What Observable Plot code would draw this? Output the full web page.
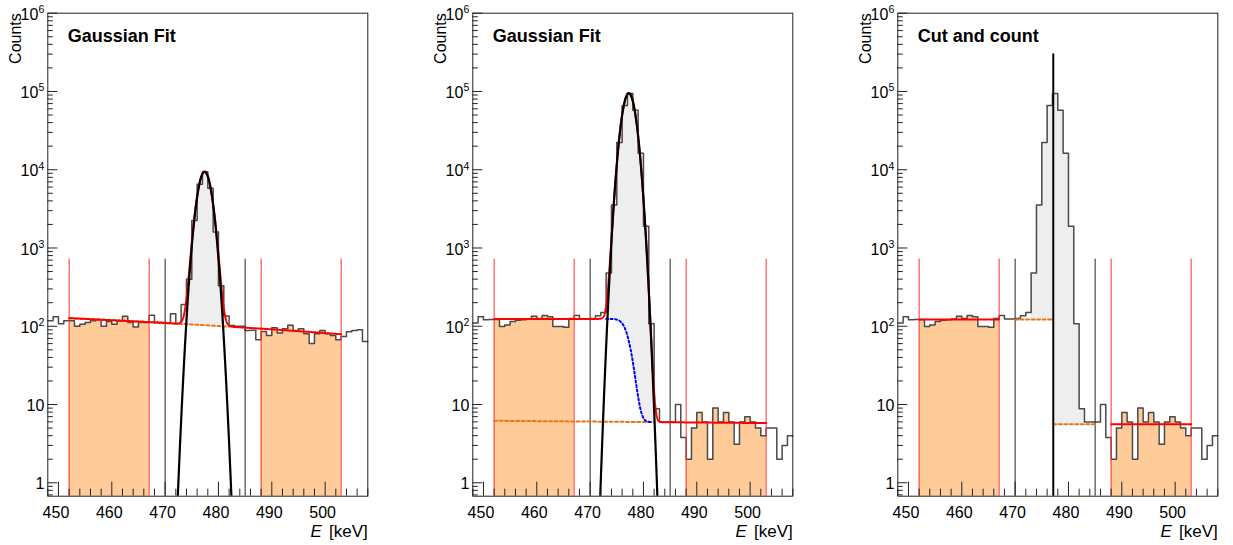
<!DOCTYPE html>
<html><head><meta charset="utf-8">
<script src="https://cdn.jsdelivr.net/npm/d3@7"></script>
<script src="https://cdn.jsdelivr.net/npm/@observablehq/plot@0.6"></script>
<style>
html,body{margin:0;padding:0;background:#fff;}
#wrap{display:flex;width:1233px;height:545px;overflow:hidden;}
#wrap svg{display:block;flex:none;}
</style></head><body><div id="wrap"></div>
<script>
// ---------------- data ----------------
const xMin = 448, xMax = 508, binWidth = 1, nBins = 60;
const binLow = d3.range(nBins).map(i => xMin + i * binWidth);
const YMIN = 0.674, YMAX = 1e6;

// panel 1 histogram (counts per 1 keV bin, 448..508)
const counts1 = [118,132,108,118,118,100,106,112,118,121,
                 100,115,106,116,134,112,98,112,112,138,
                 112,112,110,145,108,190,400,2250,6500,9400,
                 5800,1600,330,135,102,100,100,88,89,67,
                 86,76,96,82,93,103,88,93,80,60,
                 80,88,80,76,67,74,85,88,90,64];
// panels 2 and 3 histogram (same spectrum)
const counts2 = [110,132,121,122,122,99,104,115,119,121,
                 124,134,126,137,132,99,99,97,126,137,
                 124,124,126,136,150,480,3550,22300,66400,94000,
                 57600,16200,1900,108,8.8,6,6,6,10,3.8,
                 2,5,7.9,6,2,9,6,7.9,6,3.1,
                 6,7,6,5,4,5,5,2,3,4];
const counts3 = counts2;

const sideBands = [[452, 467], [488, 503]];
const signalWindow = [470, 485];
const windowLineTop = 720;

const titles = ["Gaussian Fit", "Gaussian Fit", "Cut and count"];

// fit parameters
const fit1 = {amp: 9400, mean: 477.4, sigma: 1.15, bg0: 127, bgSlope: -0.94, bgRef: 452};
const fit2 = {amp: 95000, mean: 477.25, sigma: 1.1, bg0: 6.2, bgSlope: -0.008, bgRef: 452, step: 118};
const cut3 = {cut: 477.15, left: 122, right: 5.6, lineTop: 3e5};
const peakFill1 = [474, 481];
const peakFill2 = [473, 482];
const peakFill3 = [473, 483];

// axis ticks
const xTicksMajor = [450, 460, 470, 480, 490, 500];
const xTicksMinor = d3.range(448, 509, 2).filter(v => v % 10 !== 0);
const yMajor = [1, 10, 1e2, 1e3, 1e4, 1e5, 1e6];
const yMajorBase = ["1", "10", "10", "10", "10", "10", "10"];
const yMajorExp = ["", "", "2", "3", "4", "5", "6"];
const yMinor = [];
for (let k = -1; k <= 5; k++) for (let m = 2; m <= 9; m++) { const v = m * Math.pow(10, k); if (v > YMIN && v < YMAX) yMinor.push(v); }

// ---------------- helpers ----------------
const font = "'Liberation Sans', Arial, Helvetica, sans-serif";
const cPeach = "#ffcc99", cRed = "#ff0000", cOrange = "#e8751a", cBlue = "#0000ff", cGrey = "#eeeeee";

function erfc(x) {
  const z = Math.abs(x), t = 1 / (1 + 0.5 * z);
  const r = t * Math.exp(-z*z - 1.26551223 + t*(1.00002368 + t*(0.37409196 + t*(0.09678418 + t*(-0.18628806 + t*(0.27886807 + t*(-1.13520398 + t*(1.48851587 + t*(-0.82215223 + t*0.17087277)))))))));
  return x >= 0 ? r : 2 - r;
}
const gauss = (f, e) => f.amp * Math.exp(-((e - f.mean) ** 2) / (2 * f.sigma ** 2));
const bgLin = (f, e) => f.bg0 + f.bgSlope * (e - f.bgRef);
const bgStep = (f, e) => bgLin(f, e) + f.step * 0.5 * erfc((e - f.mean) / (Math.SQRT2 * f.sigma));

function histStep(counts) {
  return counts.map((v, i) => ({x: binLow[i], y: v})).concat([{x: binLow[nBins - 1] + binWidth, y: counts[nBins - 1]}]);
}
function bandPts(counts, lo, hi, bottomFn) {
  const pts = [];
  counts.forEach((v, i) => { const a = binLow[i]; if (a >= lo && a < hi) pts.push({x: a, top: v, bot: bottomFn(a + binWidth / 2, a)}); });
  const last = pts[pts.length - 1];
  pts.push({x: hi, top: last.top, bot: last.bot});
  return pts;
}
function sample(lo, hi, step, fn) {
  return d3.range(lo, hi + step / 2, step).map(e => ({x: e, y: fn(e)}));
}

function commonFront(counts) {
  const marks = [];
  sideBands.forEach(([lo, hi]) => {
    marks.push(Plot.areaY(bandPts(counts, lo, hi, () => YMIN), {x: "x", y1: "bot", y2: "top", curve: "step-after", fill: cPeach}));
  });
  return marks;
}
function commonLines(counts) {
  return [
    Plot.line(histStep(counts), {x: "x", y: "y", curve: "step-after", stroke: "#4a4a4a", strokeWidth: 1.5}),
    Plot.ruleX(signalWindow, {x: d => d, y1: YMIN, y2: windowLineTop, stroke: "#222", strokeWidth: 1}),
    Plot.ruleX(sideBands.flat(), {x: d => d, y1: YMIN, y2: windowLineTop, stroke: "#ff3030", strokeWidth: 1})
  ];
}
function axesMarks(title) {
  const expTicks = yMajor.filter((d, i) => yMajorExp[i] !== "");
  return [
    Plot.frame({stroke: "#222", strokeWidth: 1}),
    Plot.ruleX(xTicksMajor, {x: d => d, y1: YMIN, y2: YMIN, insetTop: -14, stroke: "#222"}),
    Plot.ruleX(xTicksMinor, {x: d => d, y1: YMIN, y2: YMIN, insetTop: -7, stroke: "#222"}),
    Plot.ruleY(yMajor, {y: d => d, x1: xMin, x2: xMin, insetRight: -10, stroke: "#222"}),
    Plot.ruleY(yMinor, {y: d => d, x1: xMin, x2: xMin, insetRight: -5.5, stroke: "#222"}),
    Plot.text(xTicksMajor, {x: d => d, y: YMIN, text: d => String(d), dy: 21.5, dx: -2.5, lineAnchor: "bottom", fontSize: 16, fill: "#000"}),
    Plot.text(yMajor.filter((d, i) => yMajorExp[i] === ""), {x: xMin, y: d => d, text: d => yMajorBase[yMajor.indexOf(d)], textAnchor: "end", dx: -3.5, dy: 1.5, fontSize: 16, fill: "#000"}),
    Plot.text(expTicks, {x: xMin, y: d => d, text: d => yMajorBase[yMajor.indexOf(d)], textAnchor: "end", dx: -9.5, dy: 1.5, fontSize: 16, fill: "#000"}),
    Plot.text(expTicks, {x: xMin, y: d => d, text: d => yMajorExp[yMajor.indexOf(d)], textAnchor: "end", dx: -3.5, dy: -3.5, fontSize: 10.5, fill: "#000"}),
    Plot.text([title], {frameAnchor: "top-left", text: d => d, dx: 20, dy: 29, lineAnchor: "bottom", textAnchor: "start", fontWeight: "bold", fontSize: 18, fill: "#000"}),
    Plot.text(["Counts"], {frameAnchor: "top-left", text: d => d, rotate: -90, textAnchor: "end", lineAnchor: "bottom", dx: -26.5, dy: 0, fontSize: 16, fill: "#000"}),
    Plot.text(["[keV]"], {frameAnchor: "bottom-right", text: d => d, textAnchor: "end", lineAnchor: "bottom", dy: 41, fontSize: 17, fill: "#000"}),
    Plot.text(["E"], {frameAnchor: "bottom-right", text: d => d, textAnchor: "end", lineAnchor: "bottom", dy: 41, dx: -46, fontSize: 17, fontStyle: "italic", fill: "#000"})
  ];
}

function makePlot(width, marginRight, marks) {
  return Plot.plot({
    width, height: 545,
    marginLeft: 47.3, marginRight, marginTop: 12.7, marginBottom: 49.3,
    x: {domain: [xMin, xMax], axis: null},
    y: {type: "log", domain: [YMIN, YMAX], axis: null},
    style: {fontFamily: font, background: "white", overflow: "visible", color: "#000"},
    marks
  });
}

// ---------------- panel 1 ----------------
const p1 = makePlot(425, 57.7, [
  Plot.areaY(bandPts(counts1, peakFill1[0], peakFill1[1], c => bgLin(fit1, c)), {x: "x", y1: "bot", y2: "top", curve: "step-after", fill: cGrey}),
  ...commonFront(counts1),
  ...commonLines(counts1),
  Plot.line(sample(452, 482, 0.1, e => bgLin(fit1, e)), {x: "x", y: "y", stroke: cOrange, strokeWidth: 2, strokeDasharray: "3,2.5"}),
  Plot.line(sample(452, 503, 0.05, e => bgLin(fit1, e) + gauss(fit1, e)), {x: "x", y: "y", stroke: cRed, strokeWidth: 2}),
  Plot.line(sample(470, 485, 0.02, e => gauss(fit1, e)), {x: "x", y: "y", stroke: "#000", strokeWidth: 2.2, clip: true}),
  ...axesMarks(titles[0])
]);

// ---------------- panel 2 ----------------
const p2 = makePlot(425, 57.7, [
  Plot.areaY(bandPts(counts2, peakFill2[0], peakFill2[1], c => bgStep(fit2, c)), {x: "x", y1: "bot", y2: "top", curve: "step-after", fill: cGrey}),
  ...commonFront(counts2),
  ...commonLines(counts2),
  Plot.line(sample(452, 482, 0.1, e => bgLin(fit2, e)), {x: "x", y: "y", stroke: cOrange, strokeWidth: 2, strokeDasharray: "3,2.5"}),
  Plot.line(sample(473, 481.5, 0.05, e => bgStep(fit2, e)), {x: "x", y: "y", stroke: cBlue, strokeWidth: 2, strokeDasharray: "2,2.5"}),
  Plot.line(sample(452, 503, 0.05, e => bgStep(fit2, e) + gauss(fit2, e)), {x: "x", y: "y", stroke: cRed, strokeWidth: 2}),
  Plot.line(sample(470, 485, 0.02, e => gauss(fit2, e)), {x: "x", y: "y", stroke: "#000", strokeWidth: 2.2, clip: true}),
  ...axesMarks(titles[1])
]);

// ---------------- panel 3 ----------------
const fill3 = [];
counts3.forEach((v, i) => {
  const a = binLow[i], b = a + binWidth;
  if (a < peakFill3[0] || a >= peakFill3[1]) return;
  if (b <= cut3.cut) fill3.push({x: a, top: v, bot: cut3.left});
  else if (a >= cut3.cut) fill3.push({x: a, top: v, bot: cut3.right});
  else { fill3.push({x: a, top: v, bot: cut3.left}); fill3.push({x: cut3.cut, top: v, bot: cut3.right}); }
});
fill3.push({x: peakFill3[1], top: fill3[fill3.length - 1].top, bot: cut3.right});

const p3 = makePlot(383, 15.7, [
  Plot.areaY(fill3, {x: "x", y1: "bot", y2: "top", curve: "step-after", fill: cGrey}),
  ...commonFront(counts3),
  ...commonLines(counts3),
  Plot.line([{x: signalWindow[0], y: cut3.left}, {x: cut3.cut, y: cut3.left}], {x: "x", y: "y", stroke: cOrange, strokeWidth: 2, strokeDasharray: "3,2.5"}),
  Plot.line([{x: cut3.cut, y: cut3.right}, {x: signalWindow[1], y: cut3.right}], {x: "x", y: "y", stroke: cOrange, strokeWidth: 2, strokeDasharray: "3,2.5"}),
  Plot.line([{x: sideBands[0][0], y: cut3.left}, {x: sideBands[0][1], y: cut3.left}], {x: "x", y: "y", stroke: cRed, strokeWidth: 2}),
  Plot.line([{x: sideBands[1][0], y: cut3.right}, {x: sideBands[1][1], y: cut3.right}], {x: "x", y: "y", stroke: cRed, strokeWidth: 2}),
  Plot.ruleX([cut3.cut], {x: d => d, y1: YMIN, y2: cut3.lineTop, stroke: "#000", strokeWidth: 2}),
  ...axesMarks(titles[2])
]);

const wrap = document.getElementById("wrap");
[p1, p2, p3].forEach(p => wrap.appendChild(p));
</script>
</body></html>
